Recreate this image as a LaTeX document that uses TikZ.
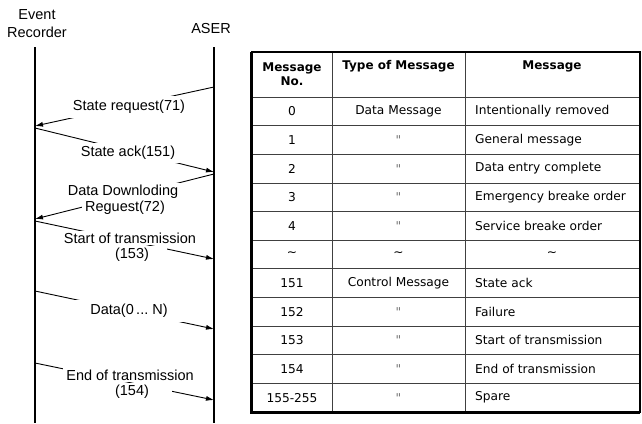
\documentclass[tikz,border=0pt]{standalone}
\usepackage{fontspec}
\setmainfont{Liberation Sans}
\newfontfamily\tabfont{DejaVu Sans}
\usetikzlibrary{arrows.meta}
\newcommand\dq{{\color{black!55}"}}
\begin{document}
\begin{tikzpicture}[x=1pt,y=-1pt,
  lifeline/.style={line width=1.8pt},
  msg/.style={line width=0.9pt,-{Latex[length=8pt,width=5pt]}},
  lbl/.style={fill=white,inner xsep=3pt,inner ysep=2pt,font=\fontsize{14.5}{16}\selectfont},
  actor/.style={font=\fontsize{14.5}{18}\selectfont,align=center,inner sep=0pt},
  cell/.style={font=\tabfont\fontsize{12.2}{13}\selectfont,inner sep=0pt},
  hcell/.style={font=\tabfont\bfseries\fontsize{12}{13.5}\selectfont,inner sep=0pt,align=center},
  gridline/.style={line width=0.8pt,black!75},
]
\useasboundingbox (0,0) rectangle (642,423);

% actors
\node[actor] (er) at (37,24) {Event\\Recorder};
\node[actor] (aser) at (211,29) {ASER};
\coordinate (Ltop) at (35,47); \coordinate (Lbot) at (35,423);
\coordinate (Rtop) at (214,47); \coordinate (Rbot) at (214,423);
\draw[lifeline] (Ltop) -- (Lbot);
\draw[lifeline] (Rtop) -- (Rbot);

% messages
\coordinate (a1) at (214,87);  \coordinate (b1) at (35,126);
\coordinate (a2) at (35,128);  \coordinate (b2) at (214,172);
\coordinate (a3) at (214,174); \coordinate (b3) at (35,219);
\coordinate (a4) at (35,221);  \coordinate (b4) at (214,259);
\coordinate (a5) at (35,291);  \coordinate (b5) at (214,329);
\coordinate (a6) at (35,363);  \coordinate (b6) at (214,400);
\foreach \i in {1,...,6} \draw[msg] (a\i) -- (b\i);

\node[lbl,minimum width=122pt,minimum height=22pt] (l1) at (129,107) {State request(71)};
\node[lbl,minimum width=106pt,minimum height=20pt] (l2) at (128,153) {State ack(151)};
\node[lbl] (l3a) at (123,192) {Data Downloding};
\node[lbl] (l3b) at (125,208) {Reguest(72)};
\node[lbl] (l4a) at (130,238) {Start of transmission};
\node[lbl,minimum width=70pt] (l4b) at (132,255) {(153)};
\node[lbl,minimum width=122pt,minimum height=22pt] (l5) at (129,311) {Data(0\,...\ N)};
\node[lbl] (l6a) at (130,375) {End of transmission};
\node[lbl,minimum width=80pt] (l6b) at (132,392) {(154)};

% table
\def\rh{28.636}
\foreach \k in {1,...,10} \draw[gridline] (252,97+\k*\rh) -- (640,97+\k*\rh);
\draw[gridline] (252,97) -- (640,97);
\draw[gridline] (332,52) -- (332,412);
\draw[gridline] (465,52) -- (465,412);
\draw[line width=1.3pt] (252,52) rectangle (640,412);
\draw[line width=3pt] (251,52) -- (251,412.5) -- (640,412.5);

\node[hcell] (h1) at (292,74) {Message\\No.};
\node[hcell] (h2) at (398.5,66) {Type of Message};
\node[hcell] (h3) at (552,66) {Message};

\foreach \no/\ty/\ms [count=\k from 0] in {
  0/Data Message/Intentionally removed,
  1/\dq/General message,
  2/\dq/Data entry complete,
  3/\dq/Emergency breake order,
  4/\dq/Service breake order,
  \textasciitilde/\textasciitilde/,
  151/Control Message/State ack,
  152/\dq/Failure,
  153/\dq/Start of transmission,
  154/\dq/End of transmission,
  155-255/\dq/Spare}{
  \node[cell] (n\k) at (292,97+\k*\rh+0.5*\rh) {\no};
  \node[cell] (t\k) at (398.5,97+\k*\rh+0.5*\rh) {\ty};
  \node[cell,anchor=west] (m\k) at (475,97+\k*\rh+0.5*\rh) {\ms};
}
\node[cell] (m5b) at (552,97+5.5*\rh) {\textasciitilde};
\end{tikzpicture}
\end{document}
